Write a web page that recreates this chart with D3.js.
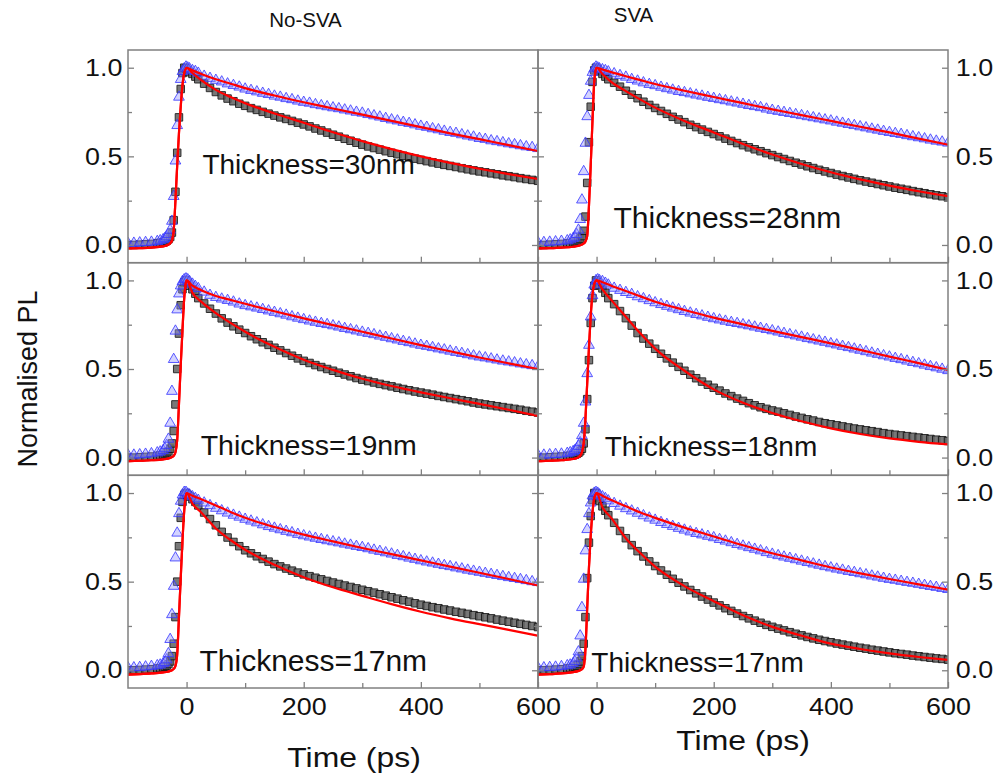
<!DOCTYPE html>
<html>
<head>
<meta charset="utf-8">
<script src="https://d3js.org/d3.v7.min.js"></script>
<style>
  html, body { margin: 0; padding: 0; background: #fff; }
  svg { display: block; font-family: "Liberation Sans", Arial, sans-serif; }
</style>
</head>
<body>
<svg id="main"></svg>
<script>
// ---- data ----
const tData = [-100,-90,-80,-70,-60,-50,-45,-40,-37,-34,-31,-28,-25,-22,-19,-16,-13,-10,-7,-4,-1,2,5,10,15,20,
  30,40,50,60,70,80,90,100,110,120,130,140,150,160,170,180,190,200,210,220,230,240,250,260,270,280,290,300,
  310,320,330,340,350,360,370,380,390,400,410,420,430,440,450,460,470,480,490,500,510,520,530,540,550,560,570,580,590,600];
const tFit = [-100,-80,-60,-40,-32,-28,-25,-22,-19,-16,-13,-10,-7,-4,-2,0,10,25,50,75,100,150,200,250,300,350,400,450,500,550,600];

const xTicksMajor = [0, 200, 400, 600];
const xTicksMinor = [100, 300, 500];
const yTicksMajor = [0, 0.5, 1.0];
const yTicksMinor = [0.25, 0.75];
const colTitles = ["No-SVA", "SVA"];
const thickness = ["Thickness=30nm", "Thickness=28nm", "Thickness=19nm", "Thickness=18nm", "Thickness=17nm", "Thickness=17nm"];

// No-SVA 30nm
const triTL = [.015,.016,.018,.02,.022,.026,.03,.036,.042,.052,.066,.09,.14,.28,.48,.68,.84,.94,.985,1.0,1.01,1.005,1.0,.99,.985,.975,
  .958,.946,.935,.926,.915,.906,.897,.886,.878,.870,.862,.855,.846,.840,.832,.826,.818,.811,.806,.798,.792,.786,.780,.775,.768,.762,.755,.750,
  .742,.735,.728,.720,.712,.706,.698,.692,.684,.676,.670,.662,.656,.648,.641,.636,.628,.621,.615,.607,.602,.594,.589,.583,.577,.572,.566,.560,.556,.550];
const sqTL = [0,0,.002,.004,.006,.01,.012,.015,.018,.024,.032,.045,.07,.14,.3,.52,.72,.88,.97,1.0,.995,.985,.975,.965,.95,.935,
  .910,.886,.863,.844,.826,.811,.797,.785,.772,.762,.751,.741,.730,.720,.711,.700,.690,.680,.669,.657,.646,.634,.622,.611,.599,.588,.577,.566,
  .556,.547,.538,.529,.520,.512,.503,.495,.487,.480,.473,.466,.459,.452,.446,.440,.433,.427,.421,.415,.410,.404,.399,.393,.388,.383,.377,.372,.367,.362];
const fitTriTL = [-.02,-.018,-.015,-.008,0,.01,.025,.08,.25,.45,.63,.78,.9,.97,.99,1.0,
  .985,.965,.935,.91,.885,.843,.805,.77,.735,.70,.665,.63,.597,.563,.53];
const fitSqTL = [-.02,-.018,-.015,-.008,0,.01,.025,.08,.25,.45,.63,.78,.9,.97,.99,1.0,
  .97,.93,.875,.835,.80,.742,.69,.636,.586,.541,.50,.463,.43,.40,.372];

// SVA 28nm
const triTR = [.02,.02,.022,.024,.027,.03,.035,.042,.05,.065,.09,.15,.26,.42,.58,.73,.85,.93,.98,1.0,1.01,1.005,1.0,.995,.99,.983,
  .972,.962,.953,.940,.931,.921,.912,.905,.896,.888,.880,.872,.866,.859,.852,.846,.839,.833,.826,.820,.813,.807,.800,.793,.787,.781,.773,.766,
  .760,.754,.748,.742,.736,.730,.724,.718,.712,.706,.699,.693,.686,.680,.673,.667,.660,.654,.647,.641,.635,.630,.623,.617,.611,.605,.598,.592,.587,.581];
const sqTR = [0,0,.002,.004,.006,.009,.011,.014,.017,.021,.027,.036,.05,.08,.16,.35,.58,.78,.92,.985,1.0,.99,.98,.965,.95,.935,
  .915,.893,.870,.848,.828,.808,.790,.773,.756,.740,.723,.708,.693,.678,.665,.651,.638,.626,.613,.600,.587,.575,.563,.551,.540,.529,.518,.507,
  .496,.485,.474,.464,.454,.444,.434,.424,.415,.406,.397,.389,.381,.373,.365,.358,.351,.344,.337,.330,.323,.317,.311,.304,.298,.292,.286,.280,.275,.268];
const fitTriTR = [-.02,-.018,-.015,-.01,-.006,-.002,.002,.008,.02,.05,.22,.45,.7,.92,.98,1.0,
  .99,.975,.952,.93,.908,.87,.835,.80,.765,.733,.70,.667,.635,.60,.566];
const fitSqTR = [-.02,-.018,-.015,-.01,-.006,-.002,.002,.008,.02,.05,.22,.45,.7,.92,.98,1.0,
  .965,.92,.868,.82,.775,.70,.635,.57,.51,.457,.41,.37,.335,.303,.275];

// No-SVA 19nm
const triML = [.02,.02,.022,.025,.028,.033,.038,.046,.056,.075,.11,.2,.38,.56,.72,.84,.93,.975,1.0,1.01,1.015,1.01,1.0,.985,.972,.96,
  .940,.922,.910,.901,.893,.884,.873,.864,.857,.850,.842,.834,.826,.818,.810,.801,.793,.785,.777,.770,.763,.757,.750,.743,.735,.728,.721,.714,
  .707,.700,.692,.685,.677,.670,.662,.655,.647,.640,.634,.627,.620,.614,.607,.600,.594,.587,.580,.574,.569,.563,.557,.551,.546,.541,.535,.530,.525,.520];
const sqML = [0,0,.002,.004,.006,.01,.012,.016,.02,.026,.035,.05,.08,.15,.3,.5,.7,.86,.95,.99,1.0,.985,.97,.95,.925,.9,
  .870,.840,.813,.786,.762,.741,.722,.703,.685,.668,.651,.636,.620,.605,.590,.575,.560,.546,.534,.522,.511,.500,.490,.479,.469,.459,.449,.440,
  .432,.424,.416,.409,.402,.394,.387,.380,.373,.367,.361,.355,.348,.342,.336,.330,.324,.318,.311,.305,.300,.295,.290,.285,.280,.275,.270,.264,.259,.254];
const fitTriML = [-.02,-.018,-.015,-.01,-.006,-.002,.003,.01,.03,.1,.3,.52,.72,.9,.97,1.0,
  .97,.945,.912,.89,.868,.826,.786,.748,.71,.672,.635,.60,.565,.532,.50];
const fitSqML = [-.02,-.018,-.015,-.01,-.006,-.002,.003,.01,.03,.1,.3,.52,.72,.9,.97,1.0,
  .93,.88,.815,.76,.71,.625,.552,.495,.445,.404,.368,.335,.303,.27,.235];

// SVA 18nm
const triMR = [.02,.02,.022,.024,.026,.03,.034,.04,.046,.055,.07,.09,.13,.2,.32,.48,.64,.8,.92,.98,1.005,1.01,1.005,1.0,.99,.98,
  .962,.950,.938,.927,.914,.903,.892,.880,.870,.860,.850,.841,.831,.822,.814,.806,.798,.790,.783,.776,.769,.763,.756,.750,.743,.736,.729,.722,
  .715,.707,.700,.693,.686,.678,.671,.664,.657,.649,.642,.634,.627,.619,.612,.604,.596,.589,.581,.574,.566,.559,.551,.543,.536,.528,.520,.513,.505,.497];
const sqMR = [0,0,.002,.004,.006,.009,.011,.014,.017,.021,.027,.036,.05,.08,.16,.33,.55,.76,.9,.97,1.0,.99,.975,.955,.93,.9,
  .866,.827,.787,.745,.703,.672,.643,.614,.586,.560,.536,.512,.490,.468,.448,.429,.411,.394,.378,.362,.347,.333,.320,.307,.295,.284,.275,.266,
  .259,.250,.241,.232,.224,.216,.209,.201,.194,.188,.182,.176,.170,.164,.159,.154,.149,.144,.138,.133,.129,.125,.121,.117,.113,.109,.105,.101,.098,.094];
const fitTriMR = [-.02,-.018,-.015,-.008,0,.01,.03,.08,.22,.42,.62,.8,.92,.98,.995,1.0,
  .99,.97,.94,.91,.88,.833,.79,.752,.715,.68,.645,.608,.57,.533,.495];
const fitSqMR = [-.02,-.018,-.015,-.008,0,.01,.03,.08,.22,.42,.62,.8,.92,.98,.995,1.0,
  .95,.89,.795,.70,.615,.49,.385,.31,.252,.205,.165,.133,.108,.089,.074];

// No-SVA 17nm
const triBL = [.02,.02,.022,.025,.028,.032,.036,.043,.05,.065,.1,.18,.32,.48,.64,.78,.89,.96,.995,1.01,1.01,1.0,.995,.985,.975,.965,
  .950,.935,.920,.906,.893,.881,.870,.858,.848,.838,.827,.817,.808,.799,.790,.782,.773,.765,.758,.751,.744,.737,.731,.725,.718,.712,.705,.699,
  .692,.684,.677,.669,.662,.654,.647,.639,.632,.624,.617,.611,.604,.597,.591,.584,.578,.571,.565,.559,.553,.547,.541,.535,.529,.524,.518,.512,.506,.501];
const sqBL = [0,0,.002,.004,.006,.01,.012,.016,.02,.026,.035,.05,.08,.15,.3,.5,.7,.86,.95,.99,1.0,.99,.98,.965,.95,.93,
  .890,.853,.818,.781,.749,.724,.700,.677,.660,.643,.628,.613,.599,.586,.574,.562,.551,.541,.531,.522,.513,.504,.495,.487,.478,.470,.462,.454,
  .446,.438,.429,.421,.412,.404,.395,.387,.378,.370,.363,.356,.350,.343,.337,.330,.324,.318,.311,.305,.299,.293,.286,.280,.274,.268,.262,.256,.250,.244];
const fitTriBL = [-.025,-.022,-.018,-.012,-.008,-.004,0,.008,.025,.09,.3,.52,.73,.9,.97,1.0,
  .985,.965,.93,.893,.86,.808,.765,.727,.69,.655,.62,.585,.55,.515,.478];
const fitSqBL = [-.025,-.022,-.018,-.012,-.008,-.004,0,.008,.025,.09,.3,.52,.73,.9,.97,1.0,
  .94,.89,.80,.735,.68,.595,.525,.468,.42,.373,.33,.293,.26,.228,.195];

// SVA 17nm
const triBR = [.02,.02,.022,.024,.027,.032,.036,.044,.055,.075,.11,.2,.36,.52,.68,.8,.89,.95,.99,1.005,1.01,1.005,.995,.985,.975,.962,
  .947,.932,.918,.905,.892,.878,.865,.853,.840,.829,.818,.807,.797,.787,.778,.770,.762,.754,.744,.735,.726,.716,.707,.698,.689,.680,.670,.661,
  .653,.645,.638,.630,.622,.614,.606,.599,.591,.584,.577,.571,.564,.558,.551,.545,.538,.532,.525,.519,.514,.508,.502,.497,.491,.485,.479,.474,.468,.462];
const sqBR = [0,0,.002,.004,.006,.01,.012,.016,.02,.026,.035,.05,.08,.15,.3,.52,.72,.87,.96,1.0,1.0,.975,.955,.925,.9,.875,
  .832,.786,.745,.706,.672,.642,.614,.588,.563,.539,.516,.494,.473,.453,.434,.416,.399,.382,.366,.350,.335,.320,.306,.293,.280,.268,.256,.245,
  .235,.225,.215,.206,.197,.188,.180,.172,.165,.158,.151,.145,.139,.133,.127,.122,.116,.111,.106,.101,.096,.092,.088,.083,.079,.075,.071,.067,.064,.060];
const fitTriBR = [-.025,-.022,-.018,-.01,-.005,0,.006,.02,.12,.35,.58,.76,.89,.97,.99,1.0,
  .985,.96,.925,.89,.86,.805,.755,.705,.66,.62,.58,.547,.515,.485,.455];
const fitSqBR = [-.025,-.022,-.018,-.01,-.005,0,.006,.02,.12,.35,.58,.76,.89,.97,.99,1.0,
  .92,.86,.745,.66,.585,.475,.39,.31,.245,.195,.15,.12,.095,.075,.058];

// label anchors in data units (time, PL)
const labelPos = [[27, 0.40], [29, 0.096], [24, 0.014], [14, 0.01], [22, -0.005], [-9, -0.007]];
const labelSize = [28, 30, 28.5, 28, 30, 28];

// ---- layout ----
const width = 997, height = 783;
const colX = [[128, 538], [538, 948]];
const rowY = [[50, 262.7], [262.7, 475.3], [475.3, 688]];
const frameColor = "#808080";

const svg = d3.select("#main").attr("width", width).attr("height", height);

const panels = [
  {r: 0, c: 0, tri: triTL, sq: sqTL, fTri: fitTriTL, fSq: fitSqTL},
  {r: 0, c: 1, tri: triTR, sq: sqTR, fTri: fitTriTR, fSq: fitSqTR},
  {r: 1, c: 0, tri: triML, sq: sqML, fTri: fitTriML, fSq: fitSqML},
  {r: 1, c: 1, tri: triMR, sq: sqMR, fTri: fitTriMR, fSq: fitSqMR},
  {r: 2, c: 0, tri: triBL, sq: sqBL, fTri: fitTriBL, fSq: fitSqBL},
  {r: 2, c: 1, tri: triBR, sq: sqBR, fTri: fitTriBR, fSq: fitSqBR},
];

const triSym = d3.symbol().type(d3.symbolTriangle).size(50);
const sqSym = d3.symbol().type(d3.symbolSquare).size(56);

function stretchText(g, x, y, txt, size, sx, anchor) {
  return g.append("text")
    .attr("transform", `translate(${x},${y}) scale(${sx},1)`)
    .attr("text-anchor", anchor)
    .attr("font-size", size)
    .attr("fill", "#111")
    .text(txt);
}

panels.forEach((p, i) => {
  const [x0, x1] = colX[p.c], [y0, y1] = rowY[p.r];
  const x = d3.scaleLinear().domain([-100, 600]).range([x0, x1]);
  const y = d3.scaleLinear().domain([-0.1, 1.1]).range([y1, y0]);

  const g = svg.append("g");
  const clipId = "clip" + i;
  g.append("clipPath").attr("id", clipId)
    .append("rect").attr("x", x0).attr("y", y0).attr("width", x1 - x0).attr("height", y1 - y0);
  const plot = g.append("g").attr("clip-path", `url(#${clipId})`);

  // gray squares
  plot.append("g").selectAll("path")
    .data(p.sq.map((v, k) => [tData[k], v]))
    .join("path")
    .attr("transform", d => `translate(${x(d[0])},${y(d[1])})`)
    .attr("d", sqSym)
    .attr("fill", "#666")
    .attr("stroke", "#111")
    .attr("stroke-width", 1)
    .attr("opacity", 0.88);

  // blue triangles
  plot.append("g").selectAll("path")
    .data(p.tri.map((v, k) => [tData[k], v]))
    .join("path")
    .attr("transform", d => `translate(${x(d[0])},${y(d[1]) + 1})`)
    .attr("d", triSym)
    .attr("fill", "#9090ff")
    .attr("fill-opacity", 0.4)
    .attr("stroke", "#3535ff")
    .attr("stroke-opacity", 0.8)
    .attr("stroke-width", 1);

  // red fits
  const line = d3.line().x((d, k) => x(tFit[k])).y(d => y(d)).curve(d3.curveMonotoneX);
  [p.fSq, p.fTri].forEach(f => {
    plot.append("path").datum(f).attr("d", line)
      .attr("fill", "none").attr("stroke", "#ff0000").attr("stroke-width", 2.2);
  });

  // axes, ticks inside
  const yMajL = d3.axisLeft(y).tickValues(yTicksMajor).tickSize(-6).tickPadding(5)
    .tickFormat(p.c === 0 ? d3.format(".1f") : () => "");
  const yMinL = d3.axisLeft(y).tickValues(yTicksMinor).tickSize(-4).tickFormat(() => "");
  const yMajR = d3.axisRight(y).tickValues(yTicksMajor).tickSize(-6).tickPadding(7)
    .tickFormat(p.c === 1 ? d3.format(".1f") : () => "");
  const yMinR = d3.axisRight(y).tickValues(yTicksMinor).tickSize(-4).tickFormat(() => "");
  const xMaj = d3.axisBottom(x).tickValues(xTicksMajor).tickSize(-6).tickPadding(10)
    .tickFormat(p.r === 2 ? d3.format("d") : () => "");
  const xMin = d3.axisBottom(x).tickValues(xTicksMinor).tickSize(-5).tickFormat(() => "");

  const axes = [
    [yMajL, `translate(${x0},0)`], [yMinL, `translate(${x0},0)`],
    [yMajR, `translate(${x1},0)`], [yMinR, `translate(${x1},0)`],
    [xMaj, `translate(0,${y1})`], [xMin, `translate(0,${y1})`],
  ];
  axes.forEach(([ax, tr]) => {
    const a = g.append("g").attr("transform", tr).call(ax);
    a.select(".domain").remove();
    a.selectAll("line").attr("stroke", frameColor).attr("stroke-width", 1.3);
    a.selectAll("text")
      .attr("font-family", "'Liberation Sans', Arial, sans-serif")
      .attr("font-size", 24).attr("fill", "#111")
      .attr("transform", "scale(1.12,1)");
  });

  // frame
  g.append("rect").attr("x", x0).attr("y", y0).attr("width", x1 - x0).attr("height", y1 - y0)
    .attr("fill", "none").attr("stroke", frameColor).attr("stroke-width", 1.5);

  // thickness label
  g.append("text")
    .attr("x", x(labelPos[i][0])).attr("y", y(labelPos[i][1]))
    .attr("font-size", labelSize[i]).attr("fill", "#111")
    .text(thickness[i]);
});

// column titles
svg.append("text").attr("x", 305.5).attr("y", 27).attr("text-anchor", "middle")
  .attr("font-size", 20.5).attr("fill", "#111").text(colTitles[0]);
svg.append("text").attr("x", 633.5).attr("y", 22).attr("text-anchor", "middle")
  .attr("font-size", 20.5).attr("fill", "#111").text(colTitles[1]);

// axis titles
stretchText(svg, 354, 767, "Time (ps)", 28.5, 1.12, "middle");
stretchText(svg, 743, 750, "Time (ps)", 28.5, 1.12, "middle");
svg.append("text")
  .attr("transform", "translate(37,379) rotate(-90)")
  .attr("text-anchor", "middle").attr("font-size", 27).attr("fill", "#111")
  .text("Normalised PL");
</script>
</body>
</html>
